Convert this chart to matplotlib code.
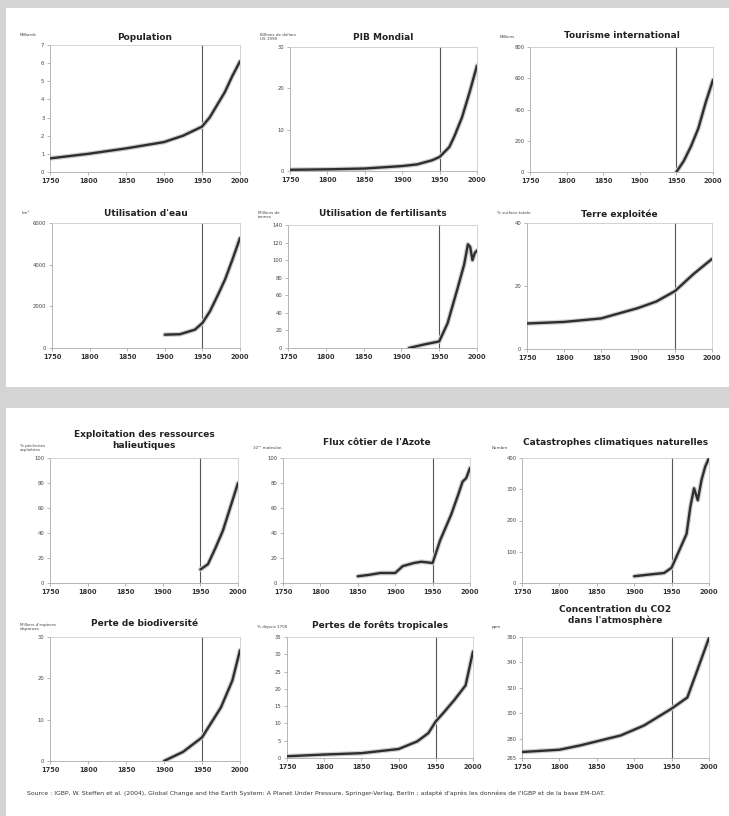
import matplotlib
matplotlib.use("Agg")
import matplotlib.pyplot as plt
from matplotlib.patches import Rectangle

W, H = 729, 816

# ---------------- data ----------------
x_ticks = [1750, 1800, 1850, 1900, 1950, 2000]

pop_years = [1750, 1800, 1850, 1900, 1925, 1950, 1960, 1970, 1980, 1990, 2000]
pop_vals = [0.75, 1.0, 1.3, 1.65, 2.0, 2.5, 3.0, 3.7, 4.4, 5.3, 6.1]

gdp_years = [1750, 1800, 1850, 1900, 1920, 1940, 1950, 1963, 1970, 1980, 1990, 2000]
gdp_vals = [0.3, 0.4, 0.6, 1.2, 1.6, 2.6, 3.4, 5.8, 8.5, 13.0, 19.0, 25.5]

tour_years = [1950, 1960, 1970, 1980, 1990, 2000]
tour_vals = [0, 70, 165, 280, 445, 590]

water_years = [1900, 1920, 1940, 1950, 1960, 1970, 1980, 1990, 2000]
water_vals = [640, 660, 880, 1200, 1760, 2500, 3280, 4250, 5280]

fert_years = [1910, 1930, 1950, 1961, 1974, 1983, 1988, 1991, 1994, 1997, 2000]
fert_vals = [0, 4, 7.5, 28, 67, 95, 118, 115, 100, 108, 111]

land_years = [1750, 1800, 1850, 1900, 1925, 1950, 1975, 2000]
land_vals = [8.1, 8.6, 9.7, 13.0, 15.1, 18.4, 23.8, 28.6]

fish_years = [1950, 1960, 1970, 1980, 1990, 2000]
fish_vals = [10.8, 15, 28, 42, 61, 80]

nflux_years = [1850, 1865, 1880, 1900, 1910, 1925, 1935, 1950, 1960, 1975, 1985, 1990, 1995, 2000]
nflux_vals = [5.4, 6.5, 8, 8, 13.5, 16, 17, 16, 34, 55, 72, 81, 84, 92]

cat_years = [1900, 1920, 1940, 1950, 1960, 1970, 1975, 1980, 1985, 1990, 1995, 2000]
cat_vals = [21.6, 27, 32, 49, 103, 157, 243, 303, 265, 330, 373, 400]

bio_years = [1900, 1925, 1950, 1975, 1990, 2000]
bio_vals = [0, 2.2, 5.7, 13, 19.5, 26.8]

forest_years = [1750, 1800, 1850, 1900, 1925, 1940, 1950, 1960, 1975, 1990, 2000]
forest_vals = [0.5, 1.0, 1.4, 2.6, 4.8, 7.2, 10.6, 13.0, 16.8, 21.0, 30.8]

co2_years = [1750, 1800, 1828, 1882, 1913, 1949, 1971, 1985, 2000]
co2_vals = [269.7, 271.5, 274.9, 282.7, 290.5, 303.4, 312.5, 335, 359.3]

charts = [
    # (title, unit, years, vals, yticks, ylim, box px (x0,y0,x1,y1), title y px)
    ("Population", "Milliards", pop_years, pop_vals,
     [0, 1, 2, 3, 4, 5, 6, 7], (0, 7), (50, 45, 240, 172), 37),
    ("PIB Mondial", "Billions de dollars\nUS 1990", gdp_years, gdp_vals,
     [0, 10, 20, 30], (0, 30), (290, 47, 477, 171), 37),
    ("Tourisme international", "Millions", tour_years, tour_vals,
     [0, 200, 400, 600, 800], (0, 800), (530, 47, 713, 172), 35),
    ("Utilisation d'eau", "km³", water_years, water_vals,
     [0, 2000, 4000, 6000], (0, 6000), (52, 223, 240, 348), 213),
    ("Utilisation de fertilisants", "Millions de\ntonnes", fert_years, fert_vals,
     [0, 20, 40, 60, 80, 100, 120, 140], (0, 140), (288, 225, 477, 348), 214),
    ("Terre exploitée", "% surface totale", land_years, land_vals,
     [0, 20, 40], (0, 40), (527, 223, 712, 349), 214),
    ("Exploitation des ressources\nhalieutiques", "% pêcheries\nexploitées", fish_years, fish_vals,
     [0, 20, 40, 60, 80, 100], (0, 100), (50, 458, 238, 583), 440),
    ("Flux côtier de l'Azote", "10¹² moles/an", nflux_years, nflux_vals,
     [0, 20, 40, 60, 80, 100], (0, 100), (283, 458, 470, 583), 443),
    ("Catastrophes climatiques naturelles", "Nombre", cat_years, cat_vals,
     [0, 100, 200, 300, 400], (0, 400), (522, 458, 709, 583), 443),
    ("Perte de biodiversité", "Milliers d'espèces\ndisparues", bio_years, bio_vals,
     [0, 10, 20, 30], (0, 30), (50, 637, 240, 761), 623),
    ("Pertes de forêts tropicales", "% depuis 1700", forest_years, forest_vals,
     [0, 5, 10, 15, 20, 25, 30, 35], (0, 35), (287, 637, 473, 758), 625),
    ("Concentration du CO2\ndans l'atmosphère", "ppm", co2_years, co2_vals,
     [265, 280, 300, 320, 340, 360], (265, 360), (522, 637, 709, 758), 615),
]

source_text = ("Source : IGBP, W. Steffen et al. (2004), Global Change and the Earth System: "
               "A Planet Under Pressure, Springer-Verlag, Berlin ; adapté d'après les données "
               "de l'IGBP et de la base EM-DAT.")

# ---------------- figure ----------------
fig = plt.figure(figsize=(W / 100, H / 100), dpi=100)
fig.patch.set_facecolor("#d4d4d4")

for (px0, py0, px1, py1) in [(6, 8, 729, 387), (6, 408, 729, 816)]:
    fig.patches.append(Rectangle((px0 / W, 1 - py1 / H), (px1 - px0) / W, (py1 - py0) / H,
                                 transform=fig.transFigure, facecolor="white",
                                 edgecolor="none", zorder=-10))

for title, unit, yrs, vals, yticks, ylim, box, ty in charts:
    x0, y0, x1, y1 = box
    ax = fig.add_axes([x0 / W, 1 - y1 / H, (x1 - x0) / W, (y1 - y0) / H])
    ax.set_zorder(5)
    ax.set_facecolor("white")
    ax.plot(yrs, vals, color="#cfcfcf", lw=3.4, solid_capstyle="round", zorder=2)
    ax.plot(yrs, vals, color="#2e2e2e", lw=1.7, solid_capstyle="round", zorder=3)
    ax.axvline(1950, color="#555555", lw=0.8, zorder=1)
    ax.set_xlim(1750, 2000)
    ax.set_ylim(*ylim)
    ax.set_xticks(x_ticks)
    ax.set_xticklabels([str(v) for v in x_ticks], fontsize=4.8, fontweight="bold", color="#333333")
    ax.set_yticks(yticks)
    ax.set_yticklabels([str(v) for v in yticks], fontsize=3.8, color="#444444")
    ax.tick_params(axis="both", length=2, width=0.5, color="#999999", pad=2)
    for s in ax.spines.values():
        s.set_color("#cccccc")
        s.set_linewidth(0.6)
    ax.spines["left"].set_color("#aaaaaa")
    ax.spines["bottom"].set_color("#aaaaaa")
    # title
    cx = (x0 + x1) / 2 / W
    fig.text(cx, 1 - ty / H, title, ha="center", va="center", fontsize=6.5,
             fontweight="bold", color="#222222", linespacing=1.3, zorder=6)
    # unit label
    fig.text((x0 - 30) / W, 1 - (y0 - 10) / H, unit, ha="left", va="center",
             fontsize=3.0, color="#444444", linespacing=1.0, zorder=6)

fig.text(27 / W, 1 - 793 / H, source_text, ha="left", va="center", fontsize=4.4,
         color="#333333", zorder=6)

fig.savefig("out.png", dpi=100, facecolor=fig.get_facecolor())
